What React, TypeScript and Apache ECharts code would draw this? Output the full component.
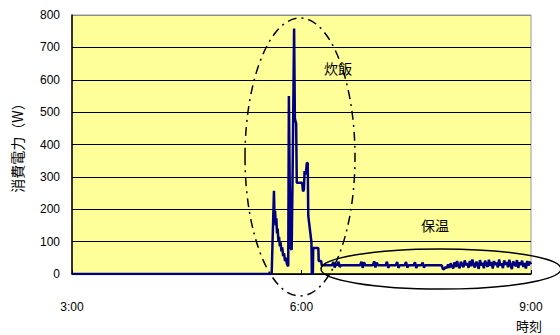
import React, { useEffect, useRef } from "react";
import * as echarts from "echarts";

// minutes after 3:00, watts
const idleData: [number, number][] = [
  [0, 0],
  [156.6, 0],
];

const cookingData: [number, number][] = [
  [158.4, 257], [158.9, 170], [159.3, 195], [159.8, 150], [160.3, 172],
  [160.8, 125], [161.3, 140], [161.9, 100], [162.4, 115], [163.0, 85],
  [163.6, 98], [164.3, 70], [164.9, 82], [165.6, 55], [166.3, 64],
  [167.1, 40], [167.8, 50], [168.6, 30], [169.6, 24], [170.1, 550],
  [170.7, 300], [171.5, 80], [172.3, 75], [173.0, 300], [174.2, 758],
  [174.8, 480], [175.8, 465], [176.3, 282], [180.5, 282], [181.2, 255],
  [181.9, 262], [182.4, 318], [183.3, 308], [184.2, 343], [184.9, 343],
  [185.3, 180], [187.8, 98], [188.1, 0], [188.9, 0], [189.2, 80],
  [193.2, 80], [193.5, 40], [195.5, 40], [195.8, 27],
];

const keepWarmData: [number, number][] = [
  [204, 27], [205, 37], [206, 20], [207, 31], [208, 27], [209, 38], [210, 22], [211, 27],
  [226, 27], [227, 38], [228, 19], [229, 36], [230, 27],
  [236, 27], [237, 39], [238, 20], [239, 35], [240, 27],
  [246, 27], [247, 38], [248, 19], [249, 27],
  [254, 27], [255, 37], [256, 19], [257, 27],
  [261, 27], [262, 37], [263, 20], [264, 27],
  [268, 27], [269, 36], [270, 19], [271, 27],
  [274, 27], [275, 35], [276, 20], [277, 27],
  [290, 27], [291, 14], [292, 16], [293, 22], [294, 18], [295, 30], [296, 19],
  [297, 33], [298, 24], [299, 17], [300, 36], [301, 22], [302, 40], [303, 25],
  [304, 18], [305, 38], [306, 29], [307, 21], [308, 42], [309, 27], [310, 34],
  [311, 19], [312, 40], [313, 24], [314, 45], [315, 28], [316, 20], [317, 38],
  [318, 31], [319, 16], [320, 43], [321, 26], [322, 35], [323, 18], [324, 41],
  [325, 30], [326, 22], [327, 44], [328, 25], [329, 37], [330, 17], [331, 40],
  [332, 28], [333, 35], [334, 20], [335, 45], [336, 26], [337, 33], [338, 18],
  [339, 42], [340, 29], [341, 37], [342, 21], [343, 44], [344, 27], [345, 15],
  [346, 39], [347, 31], [348, 24], [349, 43], [350, 19], [351, 36], [352, 28],
  [353, 41], [354, 22], [355, 34], [356, 17], [357, 40], [358, 26], [359, 38],
  [360, 30],
];

const xTickLabels: Record<number, string> = { 0: "3:00", 180: "6:00", 360: "9:00" };
const yLabel = "消費電力（W）";
const xLabel = "時刻";
const cookLabel = "炊飯";
const warmLabel = "保温";

const FONT = "'Liberation Sans', Arial, 'Noto Sans CJK JP', sans-serif";
const JFONT = "'Noto Sans CJK JP', sans-serif";

export default function App() {
  const ref = useRef<HTMLDivElement>(null);
  useEffect(() => {
    if (!ref.current) return;
    const chart = echarts.init(ref.current, null, { renderer: "svg" });
    const splitColors = ["#000", "#000", "#000", "#000", "#000", "#000", "#000", "#000", "#8c8c8c"];
    chart.setOption({
      animation: false,
      grid: {
        left: 72,
        right: 29,
        top: 15,
        bottom: 61,
        show: true,
        backgroundColor: "#FFFF99",
        borderColor: "#9a9a9a",
        borderWidth: 1,
      },
      xAxis: {
        type: "value",
        min: 0,
        max: 360,
        interval: 180,
        axisLine: { lineStyle: { color: "#000", width: 1.5 } },
        axisTick: { show: true, inside: true, length: 4, lineStyle: { color: "#000" } },
        splitLine: { show: false },
        axisLabel: {
          margin: 27,
          color: "#000",
          fontSize: 12,
          fontFamily: FONT,
          formatter: (v: number) => xTickLabels[v] ?? "",
        },
      },
      yAxis: {
        type: "value",
        min: 0,
        max: 800,
        interval: 100,
        name: yLabel,
        nameLocation: "middle",
        nameRotate: 90,
        nameGap: 48,
        nameTextStyle: { fontSize: 14, color: "#000", fontFamily: JFONT },
        axisLine: { show: true, lineStyle: { color: "#000", width: 1.5 } },
        axisTick: { show: false },
        splitLine: { show: true, lineStyle: { color: splitColors, width: 1 } },
        axisLabel: { margin: 12, color: "#000", fontSize: 12, fontFamily: FONT },
      },
      series: [
        {
          type: "line",
          data: [...idleData, ...cookingData, ...keepWarmData],
          showSymbol: false,
          lineStyle: { color: "#000080", width: 2.5 },
          itemStyle: { color: "#000080" },
        },
      ],
      graphic: [
        {
          type: "ellipse",
          shape: { cx: 300, cy: 157, rx: 55, ry: 139 },
          style: { fill: "none", stroke: "#000", lineWidth: 1.5, lineDash: [9, 5, 2, 5] },
          z: 10,
        },
        {
          type: "ellipse",
          shape: { cx: 441, cy: 269, rx: 120, ry: 20 },
          style: { fill: "none", stroke: "#000", lineWidth: 1.5 },
          z: 10,
        },
        {
          type: "text",
          x: 338,
          y: 68,
          style: { text: cookLabel, fontSize: 14, fontFamily: JFONT, fill: "#000", align: "center", verticalAlign: "middle" },
          z: 10,
        },
        {
          type: "text",
          x: 435,
          y: 225,
          style: { text: warmLabel, fontSize: 14, fontFamily: JFONT, fill: "#000", align: "center", verticalAlign: "middle" },
          z: 10,
        },
        {
          type: "text",
          x: 529,
          y: 325,
          style: { text: xLabel, fontSize: 13, fontFamily: JFONT, fill: "#000", align: "center", verticalAlign: "middle" },
          z: 10,
        },
      ],
    });
    return () => chart.dispose();
  }, []);
  return <div ref={ref} style={{ width: 560, height: 335, position: "absolute", left: 0, top: 0 }} />;
}
